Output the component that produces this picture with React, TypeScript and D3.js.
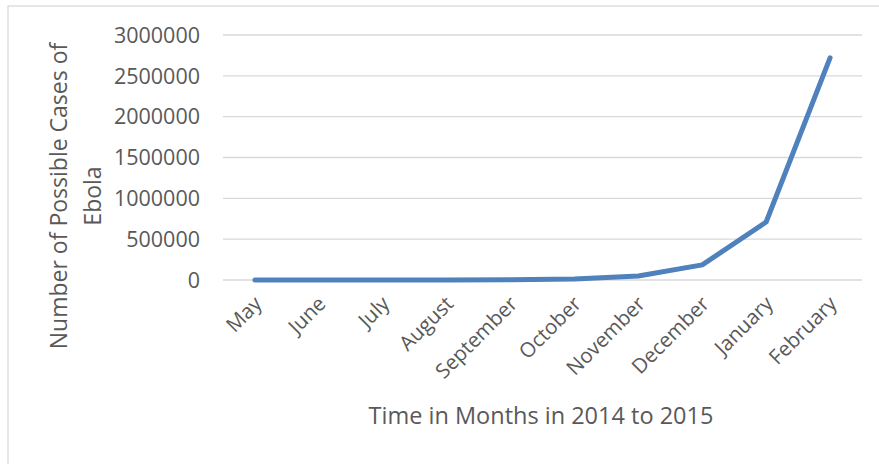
import React from "react";
import * as d3 from "d3";

const months = ["May","June","July","August","September","October","November","December","January","February"];
const cases = [14, 50, 200, 800, 3000, 12500, 48000, 185000, 710000, 2720000];
const yTicks = [0, 500000, 1000000, 1500000, 2000000, 2500000, 3000000];

const W = 879, H = 464;
const plotLeft = 223, plotRight = 862, plotTop = 35, plotBottom = 280;
const textColor = "#595959";
const font = "'Open Sans', sans-serif";

export default function App() {
  const x = d3.scaleBand<string>().domain(months).range([plotLeft, plotRight]);
  const y = d3.scaleLinear().domain([0, 3000000]).range([plotBottom, plotTop]);
  const line = d3.line<number>()
    .x((_, i) => (x(months[i]) as number) + x.bandwidth() / 2)
    .y((d) => y(d));
  return (
    <svg width={W} height={H} style={{ position: "absolute", left: 0, top: 0 }} fontFamily={font}>
      <rect x={8} y={6} width={W} height={H} fill="#fff" stroke="#d9d9d9" strokeWidth={1.3} />
      {yTicks.map((t) => (
        <g key={t}>
          <line x1={plotLeft} x2={plotRight} y1={y(t)} y2={y(t)} stroke="#d9d9d9" strokeWidth={1.3} />
          <text x={200} y={y(t)} dy="0.36em" textAnchor="end" fontSize={21.5} fill={textColor}>{t}</text>
        </g>
      ))}
      <path d={line(cases) || ""} fill="none" stroke="#4f81bd" strokeWidth={5} strokeLinejoin="round" strokeLinecap="round" />
      {months.map((m) => {
        const cx = (x(m) as number) + x.bandwidth() / 2;
        return (
          <text key={m} transform={`translate(${cx + 3},${plotBottom + 20}) rotate(-45)`} textAnchor="end" dy="0.35em" fontSize={20.5} fill={textColor}>{m}</text>
        );
      })}
      <text x={541} y={424} textAnchor="middle" fontSize={23.5} fill={textColor}>Time in Months in 2014 to 2015</text>
      <text transform="translate(67,196) rotate(-90)" textAnchor="middle" fontSize={23} fill={textColor}>
        <tspan x={0} dy={0}>Number of Possible Cases of</tspan>
        <tspan x={0} dy={34}>Ebola</tspan>
      </text>
    </svg>
  );
}
